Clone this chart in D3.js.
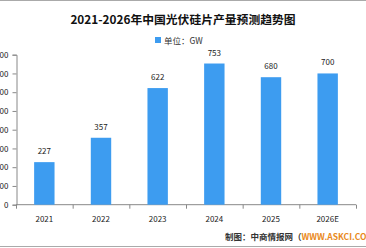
<!DOCTYPE html>
<html>
<head>
<meta charset="utf-8">
<script src="https://cdn.jsdelivr.net/npm/d3@7"></script>
<style>
  body { margin: 0; background: #fff; }
  svg { display: block; }
</style>
</head>
<body>
<svg id="chart"></svg>
<script>
// Chart data
const years = ["2021", "2022", "2023", "2024", "2025", "2026E"];
const output = [227, 357, 622, 753, 680, 700];
const yTicks = [0, 100, 200, 300, 400, 500, 600, 700, 800];

const W = 366, H = 248;

const svg = d3.select("#chart").attr("width", W).attr("height", H);
const font = "SimSun, 'Noto Sans CJK SC', sans-serif";

// frame lines top/bottom
svg.append("line").attr("x1", 0).attr("x2", W).attr("y1", 0.5).attr("y2", 0.5)
    .attr("stroke", "#aaa").attr("stroke-width", 1);
svg.append("line").attr("x1", 0).attr("x2", W).attr("y1", 246.5).attr("y2", 246.5)
    .attr("stroke", "#aaa").attr("stroke-width", 1);

// Title
svg.append("text")
    .attr("x", 183).attr("y", 24)
    .attr("text-anchor", "middle")
    .attr("font-family", "'Noto Sans CJK SC', sans-serif")
    .attr("font-weight", "bold")
    .attr("font-size", 11.8)
    .attr("fill", "#111")
    .text("2021-2026年中国光伏硅片产量预测趋势图");

// Legend
svg.append("rect").attr("x", 155).attr("y", 37).attr("width", 6).attr("height", 6).attr("fill", "#3d9cf0");
svg.append("text")
    .attr("x", 164).attr("y", 43.5)
    .attr("font-family", "'Noto Sans CJK SC', sans-serif")
    .attr("font-size", 8.5)
    .attr("fill", "#333")
    .text("单位：GW");

const x = d3.scaleBand().domain(years).range([16, 356]).paddingInner(0.64).paddingOuter(0.32);
const y = d3.scaleLinear().domain([0, 800]).range([204.7, 54.7]);

// Y axis
const yAxis = svg.append("g")
    .attr("transform", "translate(16.5,0)")
    .call(d3.axisLeft(y).tickValues(yTicks).tickSize(4).tickPadding(4));
yAxis.selectAll("path, line").attr("stroke", "#888");
yAxis.selectAll("text").attr("font-family", font).attr("font-size", 8).attr("fill", "#222");

// X axis
const xEdges = d3.range(years.length + 1).map(i => 16 + i * (340 / years.length));
const xg = svg.append("g");
xg.append("line").attr("x1", 16).attr("x2", 356).attr("y1", 204.7).attr("y2", 204.7).attr("stroke", "#888");
xg.selectAll(".xt").data(xEdges).enter().append("line")
    .attr("x1", d => d + 0.5).attr("x2", d => d + 0.5)
    .attr("y1", 204.7).attr("y2", 208.7).attr("stroke", "#888");
xg.selectAll(".xl").data(years).enter().append("text")
    .attr("x", d => x(d) + x.bandwidth() / 2)
    .attr("y", 222)
    .attr("text-anchor", "middle")
    .attr("font-family", font).attr("font-size", 8).attr("fill", "#222")
    .text(d => d);

// Bars
svg.selectAll(".bar").data(years).enter().append("rect")
    .attr("x", d => x(d))
    .attr("y", (d, i) => y(output[i]))
    .attr("width", x.bandwidth())
    .attr("height", (d, i) => y(0) - y(output[i]))
    .attr("fill", "#3d9cf0");

// Value labels
svg.selectAll(".val").data(years).enter().append("text")
    .attr("x", d => x(d) + x.bandwidth() / 2)
    .attr("y", (d, i) => y(output[i]) - 8)
    .attr("text-anchor", "middle")
    .attr("font-family", font).attr("font-size", 8).attr("fill", "#222")
    .text((d, i) => output[i]);

// Footer
const foot = svg.append("text")
    .attr("x", 225).attr("y", 240)
    .attr("font-family", "'Noto Sans CJK SC', sans-serif")
    .attr("font-size", 8.5).attr("font-weight", "bold").attr("fill", "#333");
foot.append("tspan").text("制图：中商情报网（");
foot.append("tspan").attr("fill", "#e98a1c").text("WWW.ASKCI.COM");
foot.append("tspan").text("）");
</script>
</body>
</html>
